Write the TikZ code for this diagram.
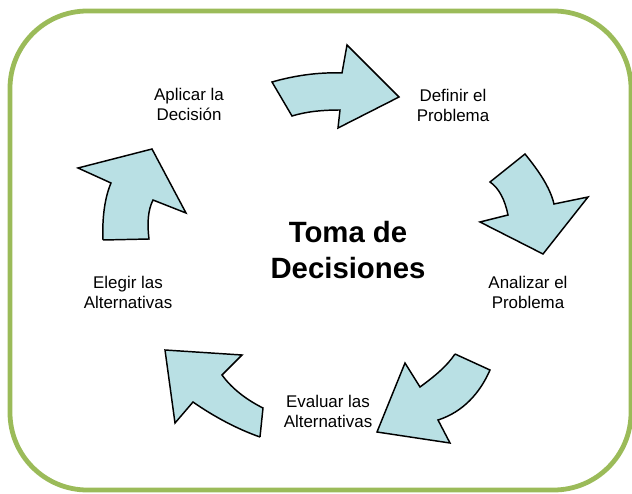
\documentclass[tikz,border=0pt]{standalone}
\usepackage{fontspec}
\setmainfont{Liberation Sans}
\usetikzlibrary{positioning}
\definecolor{framegreen}{RGB}{155,187,89}
\definecolor{arrowblue}{RGB}{185,224,228}

\begin{document}
\begin{tikzpicture}[
    x=0.75pt, y=-0.75pt,
    % Define the style for each element
    frame/.style={draw=framegreen, line width=3.6pt, rounded corners=58pt},
    blockarrow/.style={draw=black, fill=arrowblue, line width=1.1pt, line join=miter},
    label/.style={align=center, inner sep=0pt, font=\fontsize{12.7}{15}\selectfont},
    title/.style={align=center, inner sep=0pt, font=\fontsize{22}{27.5}\selectfont\bfseries}
]
\useasboundingbox (0,0) rectangle (632,493);

% Outer frame
\draw [frame] (10,11) rectangle (631,490);

% Block arrows of the cycle
\draw [blockarrow] (272,82) .. controls (293,76) and (317,72) .. (342,73) -- (347,45) -- (399,97) -- (338,128) -- (340,110)
    .. controls (320,110) and (305,112) .. (292,116) -- cycle;
\draw [blockarrow] (525,154) .. controls (538,170) and (550,187) .. (554,204) -- (588,197) -- (543,254) -- (480,222) -- (508,215)
    .. controls (505,200) and (499,188) .. (490,182) -- cycle;
\draw [blockarrow] (455,354) -- (490,370) .. controls (480,393) and (463,412) .. (438,420) -- (450,443) -- (377,432) -- (405,363)
    -- (420,387) .. controls (435,376) and (447,366) .. (455,354);
\draw [blockarrow] (260,437) -- (263,408) .. controls (243,398) and (230,386) .. (222,375) -- (242,355) -- (165,350) -- (175,423)
    -- (193,402) .. controls (213,416) and (237,429) .. (260,437);
\draw [blockarrow] (103,240) -- (149,239) .. controls (147,223) and (148,210) .. (153,200) -- (186,213) -- (152,149) -- (78,168)
    -- (111,183) .. controls (105,197) and (102,217) .. (103,240);

% Labels
\node [title] (Toma) at (348,250) {Toma de\\Decisiones};
\node [label] (Aplicar) at (189,104) {Aplicar la\\Decisión};
\node [label] (Definir) at (453,105) {Definir el\\Problema};
\node [label] (Analizar) at (528,292) {Analizar el\\Problema};
\node [label] (Evaluar) at (328,411) {Evaluar las\\Alternativas};
\node [label] (Elegir) at (128,292) {Elegir las\\Alternativas};
\end{tikzpicture}
\end{document}
